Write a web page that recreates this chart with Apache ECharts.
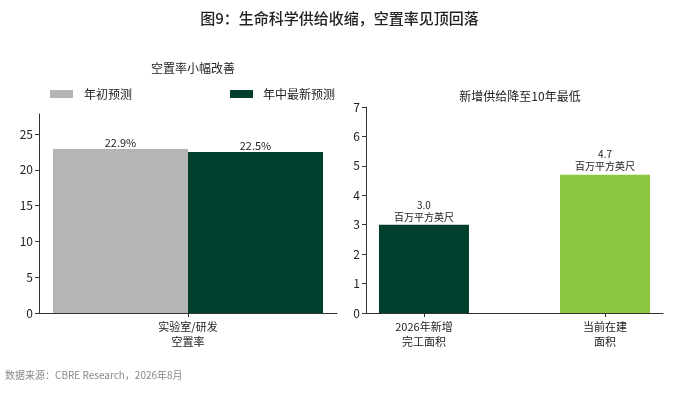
<!DOCTYPE html>
<html><head><meta charset="utf-8">
<script src="https://cdn.jsdelivr.net/npm/echarts@6/dist/echarts.min.js"></script>
<style>html,body{margin:0;padding:0;background:#fff}#c{width:679px;height:405px}</style>
</head><body><div id="c"></div>
<script>
const leftCategories = ['实验室/研发\n空置率'];
const leftSeriesNames = ['年初预测', '年中最新预测'];
const leftValues = [22.9, 22.5];
const leftTicks = [0, 5, 10, 15, 20, 25];
const rightCategories = ['2026年新增\n完工面积', '当前在建\n面积'];
const rightValues = [3.0, 4.7];
const rightUnit = '百万平方英尺';
const rightTicks = [0, 1, 2, 3, 4, 5, 6, 7];

const FONT = '"Noto Sans CJK SC", "Noto Sans", sans-serif';
const TXT = '#222';
const chart = echarts.init(document.getElementById('c'), null, {renderer: 'canvas'});

const axisLineStyle = {show: true, onZero: false, lineStyle: {color: '#333', width: 1}};
chart.setOption({
  backgroundColor: '#fff',
  textStyle: {fontFamily: FONT},
  animation: false,
  title: [
    {text: '图9：生命科学供给收缩，空置率见顶回落', left: 'center', top: 6,
     textStyle: {fontSize: 15, fontWeight: 500, color: '#222', fontFamily: FONT}},
    {text: '空置率小幅改善', left: 188, textAlign: 'center', top: 57,
     textStyle: {fontSize: 12, fontWeight: 'normal', color: TXT, fontFamily: FONT}},
    {text: '新增供给降至10年最低', left: 515, textAlign: 'center', top: 85,
     textStyle: {fontSize: 12, fontWeight: 'normal', color: TXT, fontFamily: FONT}},
    {text: '数据来源：CBRE Research，2026年8月', left: 0, top: 365,
     textStyle: {fontSize: 10, fontWeight: 'normal', color: '#888', fontFamily: FONT}}
  ],
  legend: [
    {data: [leftSeriesNames[0]], left: 45, top: 83, itemWidth: 23, itemHeight: 8, icon: 'rect',
     textStyle: {fontSize: 12, color: TXT, padding: [0, 0, 0, 6], fontFamily: FONT}},
    {data: [leftSeriesNames[1]], left: 225, top: 83, itemWidth: 23, itemHeight: 8, icon: 'rect',
     textStyle: {fontSize: 12, color: TXT, padding: [0, 0, 0, 5], fontFamily: FONT}}
  ],
  grid: [
    {left: 39, right: 342, top: 114, bottom: 92, containLabel: false},
    {left: 366, right: 16, top: 107, bottom: 92, containLabel: false}
  ],
  xAxis: [
    {type: 'category', gridIndex: 0, data: leftCategories,
     axisLine: axisLineStyle, axisTick: {show: true, alignWithLabel: true, length: 4, lineStyle: {color: '#333'}},
     axisLabel: {fontSize: 11, color: TXT, margin: 6, lineHeight: 15, fontFamily: FONT}},
    {type: 'value', gridIndex: 1, min: -0.32, max: 1.32,
     splitLine: {show: false},
     axisLine: axisLineStyle,
     axisTick: {show: true, length: 4, customValues: [0, 1], lineStyle: {color: '#333'}},
     axisLabel: {fontSize: 11, color: TXT, margin: 6, lineHeight: 15, customValues: [0, 1],
                 fontFamily: FONT,
                 formatter: v => rightCategories[Math.round(v)]}}
  ],
  yAxis: [
    {type: 'value', gridIndex: 0, min: 0, max: 27.8,
     splitLine: {show: false}, axisLine: axisLineStyle,
     axisTick: {show: true, length: 4, customValues: leftTicks, lineStyle: {color: '#333'}},
     axisLabel: {fontSize: 12, color: TXT, margin: 6, customValues: leftTicks, fontFamily: FONT}},
    {type: 'value', gridIndex: 1, min: 0, max: 7, interval: 1,
     splitLine: {show: false}, axisLine: axisLineStyle,
     axisTick: {show: true, length: 4, customValues: rightTicks, lineStyle: {color: '#333'}},
     axisLabel: {fontSize: 12, color: TXT, margin: 6, customValues: rightTicks, fontFamily: FONT}}
  ],
  series: [
    {name: leftSeriesNames[0], type: 'bar', xAxisIndex: 0, yAxisIndex: 0,
     data: [leftValues[0]], barGap: '0%', barCategoryGap: '9.4%',
     itemStyle: {color: '#b5b5b5'},
     label: {show: true, position: 'top', distance: 1, fontSize: 11, color: TXT,
             fontFamily: FONT, formatter: p => p.value.toFixed(1) + '%'}},
    {name: leftSeriesNames[1], type: 'bar', xAxisIndex: 0, yAxisIndex: 0,
     data: [leftValues[1]], barGap: '0%', barCategoryGap: '9.4%',
     itemStyle: {color: '#003f2d'},
     label: {show: true, position: 'top', distance: 1, fontSize: 11, color: TXT,
             fontFamily: FONT, formatter: p => p.value.toFixed(1) + '%'}},
    {name: 'right', type: 'bar', xAxisIndex: 1, yAxisIndex: 1, barWidth: 90,
     data: rightValues.map((v, i) => ({value: [i, v], itemStyle: {color: i === 0 ? '#003f2d' : '#8dc63f'}})),
     label: {show: true, position: 'top', distance: 2, fontSize: 10, color: TXT, lineHeight: 12,
             fontFamily: FONT, formatter: p => p.value[1].toFixed(1) + '\n' + rightUnit}}
  ]
});
</script>
</body></html>
